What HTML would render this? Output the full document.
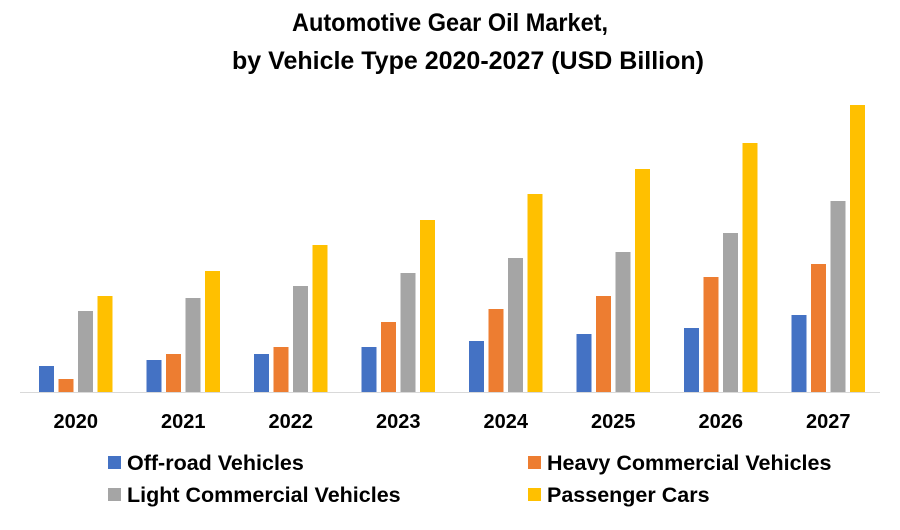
<!DOCTYPE html>
<html><head><meta charset="utf-8"><style>
body{margin:0;background:#fff;width:900px;height:525px;overflow:hidden;font-family:"Liberation Sans",Arial,sans-serif}
</style></head><body>
<svg width="900" height="525" id="c">
<text x="450" y="31" text-anchor="middle" font-size="25" font-weight="bold" fill="#000" textLength="316" lengthAdjust="spacingAndGlyphs">Automotive Gear Oil Market,</text>
<text x="468" y="69" text-anchor="middle" font-size="25" font-weight="bold" fill="#000">by Vehicle Type 2020-2027 (USD Billion)</text>
<line x1="20" y1="392.5" x2="880" y2="392.5" stroke="#d9d9d9" stroke-width="1"/>
<g id="bars"></g>
<g id="xl"></g>
<g id="legend"></g>
</svg>
<script>
const categories=["2020","2021","2022","2023","2024","2025","2026","2027"];
const offroad=[0.26,0.32,0.38,0.45,0.51,0.58,0.64,0.77];
const heavy=[0.13,0.38,0.45,0.70,0.83,0.96,1.15,1.28];
const light=[0.81,0.94,1.06,1.19,1.34,1.40,1.59,1.91];
const passenger=[0.96,1.21,1.47,1.72,1.98,2.23,2.49,2.87];
const seriesNames=["Off-road Vehicles","Heavy Commercial Vehicles","Light Commercial Vehicles","Passenger Cars"];
const colors=["#4472C4","#ED7D31","#A5A5A5","#FFC000"];
const series=[offroad,heavy,light,passenger];
const NS="http://www.w3.org/2000/svg";
const base=392,scale=100,x0=22,cw=107.5,bw=15,step=19.5;
function yv(v){return base-v*scale;}
function xc(i){return x0+cw*i+cw/2;}
const bars=document.getElementById('bars'),xl=document.getElementById('xl'),lg=document.getElementById('legend');
categories.forEach((c,i)=>{
  series.forEach((s,k)=>{
    const r=document.createElementNS(NS,'rect');
    r.setAttribute('x',xc(i)-2*step+(step-bw)/2+k*step);
    r.setAttribute('y',yv(s[i]));
    r.setAttribute('width',bw);
    r.setAttribute('height',base-yv(s[i]));
    r.setAttribute('fill',colors[k]);
    
    
    bars.appendChild(r);
  });
  const t=document.createElementNS(NS,'text');
  t.setAttribute('x',xc(i));t.setAttribute('y',428);
  t.setAttribute('text-anchor','middle');t.setAttribute('font-size','20');t.setAttribute('font-weight','bold');
  t.textContent=c;
  
  
  xl.appendChild(t);
});
const lpos=[[108,463],[528,463],[108,495],[528,495]];
seriesNames.forEach((n,k)=>{
  const g=document.createElementNS(NS,'g');
  
  
  const r=document.createElementNS(NS,'rect');
  r.setAttribute('x',lpos[k][0]);r.setAttribute('y',lpos[k][1]-7);r.setAttribute('width',13);r.setAttribute('height',13);
  r.setAttribute('fill',colors[k]);
  
  
  const t=document.createElementNS(NS,'text');
  t.setAttribute('x',lpos[k][0]+19);t.setAttribute('y',lpos[k][1]+7);
  t.setAttribute('font-size','21.5');t.setAttribute('font-weight','bold');
  t.textContent=n;
  
  
  g.appendChild(r);g.appendChild(t);lg.appendChild(g);
});
</script>
</body></html>
